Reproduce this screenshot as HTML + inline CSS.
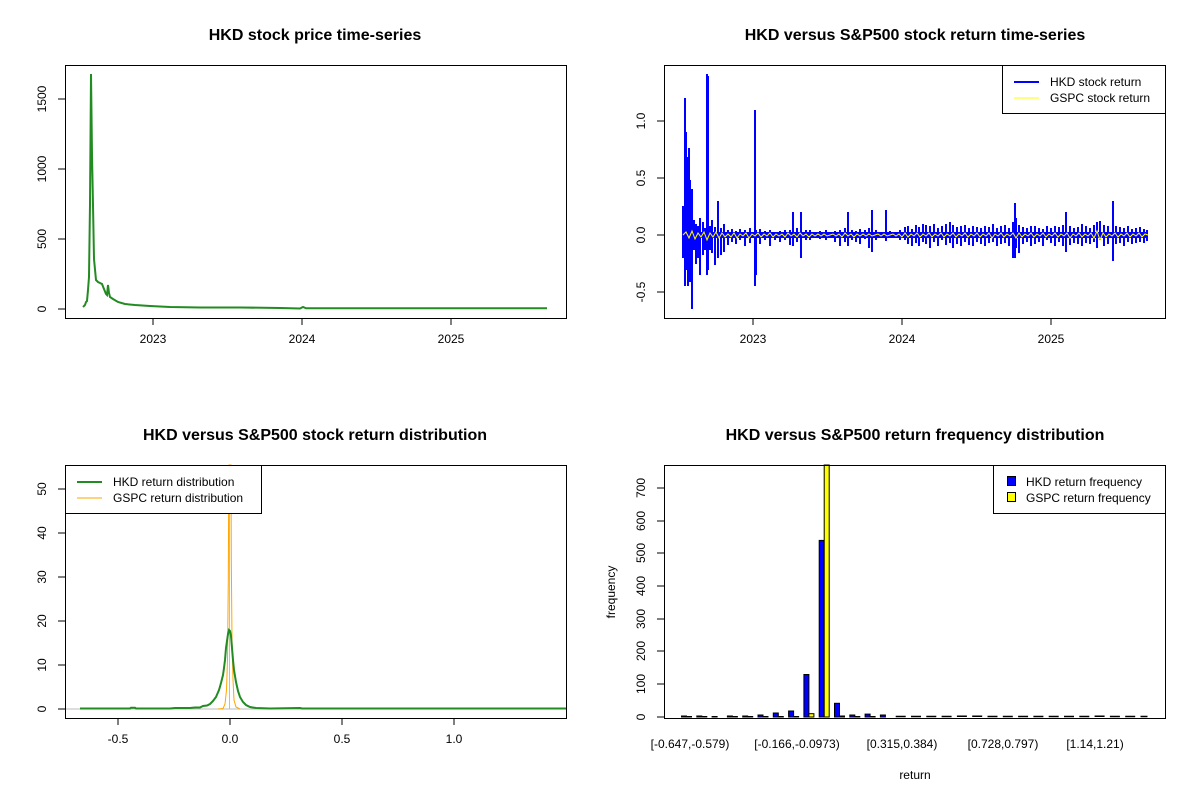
<!DOCTYPE html>
<html><head><meta charset="utf-8">
<style>
html,body{margin:0;padding:0;background:#fff;}
svg{display:block;font-family:"Liberation Sans",Arial,sans-serif;}
.t{font-size:16px;font-weight:bold;text-anchor:middle;}
.k{font-size:12px;}
</style></head>
<body>
<svg width="1200" height="800" viewBox="0 0 1200 800" xmlns="http://www.w3.org/2000/svg">
<rect width="1200" height="800" fill="#fff"/>
<text class="t" x="315" y="40">HKD stock price time-series</text>
<text class="t" x="915" y="40">HKD versus S&amp;P500 stock return time-series</text>
<text class="t" x="315" y="440">HKD versus S&amp;P500 stock return distribution</text>
<text class="t" x="915" y="440">HKD versus S&amp;P500 return frequency distribution</text>

<!-- TL price -->
<polyline fill="none" stroke="#228b22" stroke-width="2" points="83,307 85,305 86,302 87,301 88,290 89,277 90,204 91,74 92,155 93,205 94,259 96,280 98,282 100,283 102,284 104,289 106,294 107,295 108,285 109,293 110,297 113,299 118,302 125,304 135,305 150,306 170,307 200,307.5 240,307.5 280,308 300,308.5 303,307 306,308.3 400,308.3 547,308.3"/>

<!-- TR returns: noise band -->
<rect x="683" y="232" width="465" height="6" fill="#0000ff"/>
<path fill="none" stroke="#0000ff" stroke-width="2" d="
M683 206V258 M685 98V286 M686 132V270 M688 157V286 M689 148V270 M690 180V282 M692 189V309 M694 220V250 M696 224V264 M698 226V258 M700 218V275 M703 222V255 M705 228V250 M707 74V275 M708 76V270 M710 226V250 M712 220V253 M715 227V265 M718 201V258 M721 228V255 M724 224V252 M728 230V245 M732 229V242 M736 231V244 M740 229V240 M745 230V246 M750 228V243
M755 110V286 M756 230V275 M760 229V244 M765 231V240 M770 230V246 M775 232V240 M780 231V242 M785 230V240 M790 230V245 M793 212V246 M797 228V242 M801 212V258 M806 230V240 M810 230V240 M815 232V238 M820 231V239 M826 230V240 M830 232V238 M835 231V242 M840 230V246 M845 228V242 M848 212V246 M852 230V240 M856 231V242 M860 229V244 M865 230V239 M869 228V248 M872 210V252 M876 230V240 M880 232V238 M886 210V241 M890 231V238 M895 232V238 M900 230V240
M905 227V240 M908 226V244 M912 229V246 M916 225V243 M919 227V246 M923 224V242 M926 225V244 M930 226V248 M934 224V242 M938 228V246 M942 226V240 M946 224V245 M950 222V243 M953 225V248 M957 227V244 M961 226V246 M965 225V242 M969 228V245 M973 226V246 M977 227V242 M981 228V244 M985 226V246 M989 227V243 M993 224V242 M997 228V246 M1001 226V244 M1005 225V243 M1009 228V246
M1013 222V258 M1015 203V258 M1016 218V248 M1019 225V253 M1023 227V244 M1027 228V242 M1031 226V246 M1035 226V244 M1039 228V242 M1043 229V246 M1047 226V240 M1051 228V243 M1055 226V246 M1059 227V242 M1063 225V246 M1066 212V252 M1070 226V245 M1074 228V243 M1078 227V244 M1082 224V246 M1086 226V243 M1090 228V244 M1094 225V242 M1097 222V248 M1100 221V240 M1104 225V246 M1108 226V244 M1113 201V261 M1116 226V244 M1120 227V243 M1124 228V246 M1128 226V242 M1132 229V244 M1136 228V243 M1140 227V242 M1144 229V243 M1147 230V241"/>
<polyline fill="none" stroke="#ffff00" stroke-width="1" points="683,235 686,232 689,238 692,231 695,239 698,233 701,237 704,232 707,240 710,233 713,237 716,232 719,238 722,233 725,237 728,234 731,237 734,233 737,238 740,234 743,236 746,233 749,238 752,234 755,236 758,233 761,237 764,234 767,236 770,233 773,237 776,234 779,236 782,234 785,237 788,233 791,236 794,234 797,237 800,233 803,236 806,234 809,237 812,234 815,236 818,234 821,236 824,234 827,236 830,235 833,234 836,236 839,234 842,237 845,233 848,236 851,234 854,237 857,234 860,236 863,234 866,236 869,234 872,236 875,235 878,234 881,236 884,234 887,236 890,235 893,234 896,236 899,234 902,237 905,233 908,237 911,234 914,236 917,233 920,237 923,234 926,236 929,233 932,237 935,234 938,236 941,233 944,237 947,234 950,236 953,233 956,237 959,234 962,236 965,233 968,237 971,234 974,236 977,233 980,237 983,234 986,236 989,233 992,238 995,234 998,236 1001,233 1004,237 1007,234 1010,236 1013,233 1016,238 1019,233 1022,237 1025,234 1028,236 1031,233 1034,237 1037,234 1040,236 1043,233 1046,237 1049,234 1052,236 1055,233 1058,237 1061,234 1064,236 1067,233 1070,238 1073,234 1076,236 1079,233 1082,237 1085,234 1088,236 1091,233 1094,238 1097,231 1100,240 1103,233 1106,237 1109,234 1112,236 1115,233 1118,237 1121,234 1124,236 1127,233 1130,237 1133,234 1136,236 1139,233 1142,237 1145,234 1148,235"/>

<!-- BL densities -->
<line x1="65" y1="709" x2="566" y2="709" stroke="#bebebe"/>
<line x1="229.5" y1="480" x2="229.5" y2="709" stroke="#bebebe"/>
<polyline fill="none" stroke="#ffa500" stroke-width="1" points="218,709 223,708.5 225,704 226.5,690 227.5,660 228.3,580 228.8,470 229,465 231,465 231.3,560 232,640 233,680 234,700 236,707 240,709"/>
<polyline fill="none" stroke="#228b22" stroke-width="2" points="80,708.5 130,708.5 131,707.8 135,707.8 136,708.5 170,708.5 175,708 190,708 195,707.5 200,707.5 203,706 207,705.5 210,704 213,701 216,697 219,690 221,683 223,675 224,668 225,660 226,648 227,641 228,634 229,630 230,631 231,636 232,648 233,660 234,670 236,682 238,691 240,697 243,702 246,705 250,707 256,708 270,708.5 300,708 302,708.5 330,708.5 566,708.5"/>

<!-- BR bars -->
<g stroke="#000" stroke-width="1">
<rect x="681.5" y="716" width="5" height="1" fill="#0000ff"/>
<rect x="696.8" y="716" width="5" height="1" fill="#0000ff"/>
<rect x="712.1" y="716.5" width="5" height="0.5" fill="#0000ff"/>
<rect x="727.4" y="716" width="5" height="1" fill="#0000ff"/>
<rect x="742.7" y="716" width="5" height="1" fill="#0000ff"/>
<rect x="758" y="715" width="5" height="2" fill="#0000ff"/>
<rect x="773.3" y="713" width="5" height="4" fill="#0000ff"/>
<rect x="788.6" y="711" width="5" height="6" fill="#0000ff"/>
<rect x="803.9" y="674.5" width="5" height="42.5" fill="#0000ff"/>
<rect x="819.2" y="540.4" width="5" height="176.6" fill="#0000ff"/>
<rect x="834.5" y="703.3" width="5" height="13.7" fill="#0000ff"/>
<rect x="849.8" y="715" width="5" height="2" fill="#0000ff"/>
<rect x="865.1" y="714.1" width="5" height="2.9" fill="#0000ff"/>
<rect x="880.4" y="715" width="5" height="2" fill="#0000ff"/>
<rect x="686.5" y="716.5" width="5" height="0.5" fill="#ffff00"/>
<rect x="701.8" y="716.5" width="5" height="0.5" fill="#ffff00"/>
<rect x="732.4" y="716.5" width="5" height="0.5" fill="#ffff00"/>
<rect x="747.7" y="716.5" width="5" height="0.5" fill="#ffff00"/>
<rect x="763" y="716.5" width="5" height="0.5" fill="#ffff00"/>
<rect x="778.3" y="716.5" width="5" height="0.5" fill="#ffff00"/>
<rect x="793.6" y="716.5" width="5" height="0.5" fill="#ffff00"/>
<rect x="808.9" y="713.7" width="5" height="3.3" fill="#ffff00"/>
<rect x="824.2" y="465" width="5" height="252" fill="#ffff00"/>
<rect x="839.5" y="716" width="5" height="1" fill="#ffff00"/>
<rect x="854.8" y="716.5" width="5" height="0.5" fill="#ffff00"/>
<rect x="870.1" y="716.5" width="5" height="0.5" fill="#ffff00"/>
</g>
<path stroke="#000" stroke-width="1.5" d="M895.7 716.5h10M911 716.5h10M926.3 716.5h10M941.6 716.5h10M956.9 716.2h10M972.2 716.2h10M987.5 716.5h10M1002.8 716.5h10M1018.1 716.5h10M1033.4 716.5h10M1048.7 716.5h10M1064 716.5h10M1079.3 716.5h10M1094.6 716.2h10M1109.9 716.5h10M1125.2 716.5h10M1140.5 716.5h7"/>

<!-- frames -->
<g fill="none" stroke="#000" stroke-width="1">
<rect x="65.5" y="65.5" width="501" height="253"/>
<rect x="664.5" y="65.5" width="501" height="253"/>
<rect x="65.5" y="465.5" width="501" height="253"/>
<rect x="664.5" y="465.5" width="501" height="253"/>
</g>
<!-- TL axes -->
<g stroke="#000">
<line x1="65" y1="309" x2="58" y2="309"/><line x1="65" y1="239" x2="58" y2="239"/><line x1="65" y1="169" x2="58" y2="169"/><line x1="65" y1="99" x2="58" y2="99"/>
<line x1="153" y1="318" x2="153" y2="325"/><line x1="302" y1="318" x2="302" y2="325"/><line x1="451" y1="318" x2="451" y2="325"/>
</g>
<g class="k" text-anchor="middle">
<text transform="translate(46,309) rotate(-90)">0</text>
<text transform="translate(46,239) rotate(-90)">500</text>
<text transform="translate(46,169) rotate(-90)">1000</text>
<text transform="translate(46,99) rotate(-90)">1500</text>
<text x="153" y="343">2023</text><text x="302" y="343">2024</text><text x="451" y="343">2025</text>
</g>
<!-- TR axes -->
<g stroke="#000">
<line x1="664" y1="121" x2="657" y2="121"/><line x1="664" y1="178" x2="657" y2="178"/><line x1="664" y1="235" x2="657" y2="235"/><line x1="664" y1="292" x2="657" y2="292"/>
<line x1="753" y1="318" x2="753" y2="325"/><line x1="902" y1="318" x2="902" y2="325"/><line x1="1051" y1="318" x2="1051" y2="325"/>
</g>
<g class="k" text-anchor="middle">
<text transform="translate(645,121) rotate(-90)">1.0</text>
<text transform="translate(645,178) rotate(-90)">0.5</text>
<text transform="translate(645,235) rotate(-90)">0.0</text>
<text transform="translate(645,292) rotate(-90)">-0.5</text>
<text x="753" y="343">2023</text><text x="902" y="343">2024</text><text x="1051" y="343">2025</text>
</g>
<!-- BL axes -->
<g stroke="#000">
<line x1="65" y1="709" x2="58" y2="709"/><line x1="65" y1="665" x2="58" y2="665"/><line x1="65" y1="621" x2="58" y2="621"/><line x1="65" y1="577" x2="58" y2="577"/><line x1="65" y1="533" x2="58" y2="533"/><line x1="65" y1="489" x2="58" y2="489"/>
<line x1="118" y1="718" x2="118" y2="725"/><line x1="230" y1="718" x2="230" y2="725"/><line x1="342" y1="718" x2="342" y2="725"/><line x1="454" y1="718" x2="454" y2="725"/>
</g>
<g class="k" text-anchor="middle">
<text transform="translate(46,709) rotate(-90)">0</text>
<text transform="translate(46,665) rotate(-90)">10</text>
<text transform="translate(46,621) rotate(-90)">20</text>
<text transform="translate(46,577) rotate(-90)">30</text>
<text transform="translate(46,533) rotate(-90)">40</text>
<text transform="translate(46,489) rotate(-90)">50</text>
<text x="118" y="743">-0.5</text><text x="230" y="743">0.0</text><text x="342" y="743">0.5</text><text x="454" y="743">1.0</text>
</g>
<!-- BR axes -->
<g stroke="#000">
<line x1="664" y1="717" x2="657" y2="717"/><line x1="664" y1="684" x2="657" y2="684"/><line x1="664" y1="651" x2="657" y2="651"/><line x1="664" y1="619" x2="657" y2="619"/><line x1="664" y1="586" x2="657" y2="586"/><line x1="664" y1="553" x2="657" y2="553"/><line x1="664" y1="521" x2="657" y2="521"/><line x1="664" y1="488" x2="657" y2="488"/>
</g>
<g class="k" text-anchor="middle">
<text transform="translate(645,717) rotate(-90)">0</text>
<text transform="translate(645,684) rotate(-90)">100</text>
<text transform="translate(645,651) rotate(-90)">200</text>
<text transform="translate(645,619) rotate(-90)">300</text>
<text transform="translate(645,586) rotate(-90)">400</text>
<text transform="translate(645,553) rotate(-90)">500</text>
<text transform="translate(645,521) rotate(-90)">600</text>
<text transform="translate(645,488) rotate(-90)">700</text>
<text x="690" y="748">[-0.647,-0.579)</text>
<text x="797" y="748">[-0.166,-0.0973)</text>
<text x="902" y="748">[0.315,0.384)</text>
<text x="1003" y="748">[0.728,0.797)</text>
<text x="1095" y="748">[1.14,1.21)</text>
<text x="915" y="779">return</text>
<text transform="translate(615,592) rotate(-90)">frequency</text>
</g>
<!-- legends -->
<g class="k">
<rect x="1002.5" y="65.5" width="163" height="48" fill="#fff" stroke="#000"/>
<line x1="1014" y1="82" x2="1039" y2="82" stroke="#0000ff" stroke-width="2"/>
<line x1="1014" y1="98" x2="1039" y2="98" stroke="#ffff00" stroke-width="1"/>
<text x="1050" y="86">HKD stock return</text>
<text x="1050" y="102">GSPC stock return</text>

<rect x="65.5" y="465.5" width="196" height="48" fill="#fff" stroke="#000"/>
<line x1="77" y1="482" x2="102" y2="482" stroke="#228b22" stroke-width="2"/>
<line x1="77" y1="498" x2="102" y2="498" stroke="#ffa500" stroke-width="1"/>
<text x="113" y="486">HKD return distribution</text>
<text x="113" y="502">GSPC return distribution</text>

<rect x="993.5" y="465.5" width="172" height="48" fill="#fff" stroke="#000"/>
<rect x="1007.5" y="476.5" width="8" height="9" fill="#0000ff" stroke="#000"/>
<rect x="1007.5" y="492.5" width="8" height="9" fill="#ffff00" stroke="#000"/>
<text x="1026" y="486">HKD return frequency</text>
<text x="1026" y="502">GSPC return frequency</text>
</g>
</svg>
</body></html>
